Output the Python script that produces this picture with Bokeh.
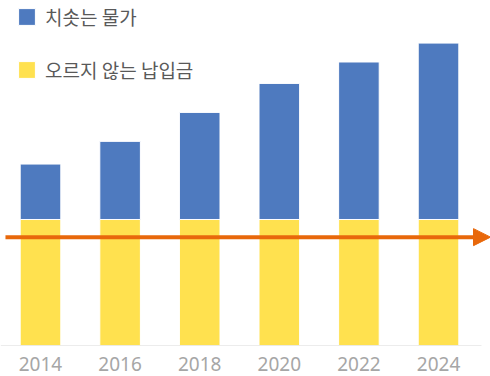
from bokeh.plotting import figure
from bokeh.models import (Range1d, FixedTicker, Arrow, NormalHead, Legend, LegendItem,
                          ColumnDataSource)
from bokeh.embed import file_html
from bokeh.resources import INLINE

years = ["2014", "2016", "2018", "2020", "2022", "2024"]
base_income = [100, 100, 100, 100, 100, 100]      # 오르지 않는 납입금
price_rise = [44, 62, 85, 108, 125, 140]          # 치솟는 물가
trend_level = 86
labels = ["치솟는 물가", "오르지 않는 납입금"]

idx = list(range(len(years)))
tops = [b + r for b, r in zip(base_income, price_rise)]
src = ColumnDataSource(dict(x=idx, base=base_income, top=tops, zero=[0] * len(idx)))

BLUE = "#4E7ABF"
YELLOW = "#FFE14F"
ORANGE = "#E8680B"

p = figure(width=490, height=376, output_backend="svg", toolbar_location=None,
           x_range=Range1d(-0.5025, 5.653), y_range=Range1d(0, 273.8),
           y_axis_location=None, min_border_left=0, min_border_right=0,
           min_border_top=0, min_border_bottom=31)
p.outline_line_color = None
p.grid.visible = False
p.background_fill_color = "white"

yel = p.vbar(x="x", bottom="zero", top="base", width=0.51, source=src,
             fill_color=YELLOW, line_color="white", line_width=1)
blu = p.vbar(x="x", bottom="base", top="top", width=0.51, source=src,
             fill_color=BLUE, line_color="white", line_width=1)

# baseline
p.segment(x0=[-0.5], y0=[0], x1=[5.54], y1=[0], line_color="#D9D9D9", line_width=1)

ax = p.xaxis[0]
ax.ticker = FixedTicker(ticks=idx)
ax.major_label_overrides = {i: y for i, y in zip(idx, years)}
ax.axis_line_color = None
ax.major_tick_line_color = None
ax.minor_tick_line_color = None
ax.major_tick_out = 0
ax.major_label_standoff = 11
ax.major_label_text_font = "Noto Sans"
ax.major_label_text_font_size = "19px"
ax.major_label_text_color = "#A6A6A6"

arrow = Arrow(x_start=-0.44, y_start=trend_level, x_end=5.653, y_end=trend_level,
              line_color=ORANGE, line_width=4,
              end=NormalHead(size=17, fill_color=ORANGE, line_color=ORANGE, line_width=1))
p.add_layout(arrow)

legend = Legend(items=[LegendItem(label=labels[0], renderers=[blu]),
                       LegendItem(label=labels[1], renderers=[yel])],
                location=(16, 262), padding=0, margin=0, spacing=26,
                glyph_width=21, glyph_height=21, label_height=17,
                label_standoff=8, border_line_color=None,
                background_fill_alpha=0,
                label_text_font="Noto Sans CJK KR", label_text_font_size="19px",
                label_text_color="#595959")
p.add_layout(legend, "center")

open("out.html", "w").write(file_html(p, INLINE))
